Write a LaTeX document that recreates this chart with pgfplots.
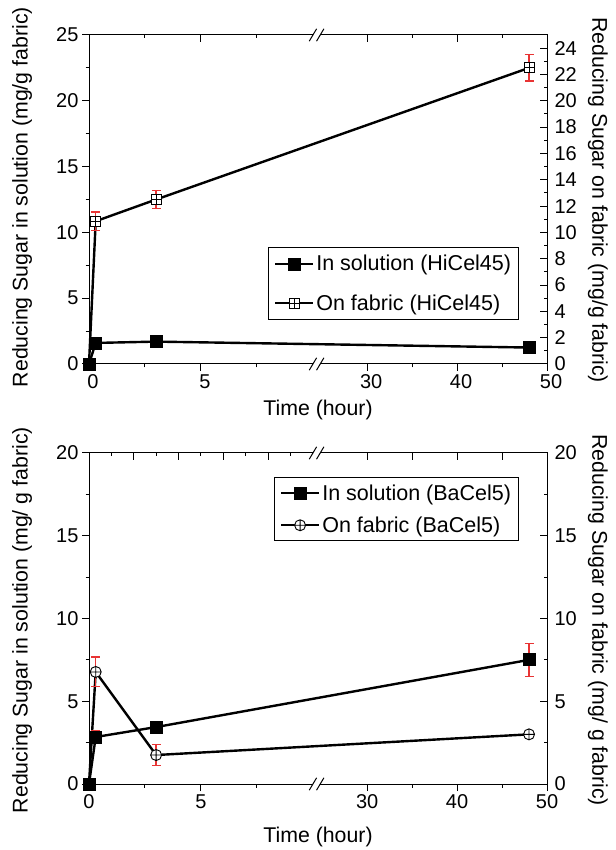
\documentclass[border=0pt]{standalone}
\usepackage{fontspec}
\setmainfont{Liberation Sans}
\usepackage{pgfplots}
\pgfplotsset{compat=1.18}

\pgfdeclareplotmark{boxplus}{%
  \pgfpathrectangle{\pgfpoint{-\pgfplotmarksize}{-\pgfplotmarksize}}{\pgfpoint{2\pgfplotmarksize}{2\pgfplotmarksize}}%
  \pgfusepathqfillstroke
  \pgfpathmoveto{\pgfpoint{-\pgfplotmarksize}{0pt}}\pgfpathlineto{\pgfpoint{\pgfplotmarksize}{0pt}}%
  \pgfpathmoveto{\pgfpoint{0pt}{-\pgfplotmarksize}}\pgfpathlineto{\pgfpoint{0pt}{\pgfplotmarksize}}%
  \pgfusepathqstroke}

\pgfplotstableread{
x    y     e
0    0     0
0.3  1.6   0.05
3    1.7   0.05
48   1.25  0.05
}\solA
\pgfplotstableread{
x    y     e
0    0     0
0.3  10.85 0.7
3    12.5  0.7
48   22.5  1.0
}\fabA
\pgfplotstableread{
x    y     e
0    0     0
0.3  2.84  0.36
3    3.44  0.1
48   7.5   1.0
}\solB
\pgfplotstableread{
x    y     e
0    0     0
0.3  6.77  0.9
3    1.75  0.65
48   3.0   0.1
}\fabB

\definecolor{ebred}{RGB}{232,52,52}

\tikzset{
  solline/.style={black, line width=2.4pt, mark=square*, mark size=6pt, mark options={solid, line width=0.8pt, fill=black}},
  fabAline/.style={black, line width=2.4pt, mark=boxplus, mark size=5pt, mark options={solid, line width=0.9pt, fill=white}},
  fabBline/.style={black, line width=2.4pt, mark=oplus*, mark size=5.5pt, mark options={solid, line width=0.9pt, fill=white}},
  brk/.style={line width=1pt},
}

\newcommand\axisbreak[1]{%
  \fill[white] ([xshift=-3.7pt,yshift=-1.5pt]rel axis cs:0.497,#1) rectangle ([xshift=3.6pt,yshift=1.5pt]rel axis cs:0.497,#1);
  \draw[brk] ([xshift=-7.4pt,yshift=-6.2pt]rel axis cs:0.497,#1) -- ++(7.4pt,12.4pt);
  \draw[brk] ([xshift=-0.1pt,yshift=-6.2pt]rel axis cs:0.497,#1) -- ++(7.4pt,12.4pt);
}

\pgfplotsset{
  panel/.style={
    scale only axis, width=458pt,
    xmin=0, xmax=50,
    axis line style={line width=1pt},
    every tick/.style={black, line width=1pt},
    major tick length=7pt, minor tick length=3.5pt,
    tick label style={font=\fontsize{20}{22}\selectfont},
    label style={font=\fontsize{21.3}{24}\selectfont},
    /pgf/number format/assume math mode=true,
    clip=false,
    xtick={0,5,30,40,50}, xticklabels={0,5,30,40,50},
    minor xtick={2.5,7.5,35,45},
    legend cell align=left,
  },
  ebars/.style={error bars/.cd, y dir=both, y explicit,
    error bar style={draw=ebred, line width=1.3pt},
    error mark options={draw=ebred, line width=1.2pt, mark size=4.5pt, rotate=90}},
}

\begin{document}
\begin{tikzpicture}

% ---------------- top panel ----------------
\begin{axis}[panel, at={(89pt,486pt)}, anchor=south west, height=329pt,
  x coord trafo/.code={\pgfmathparse{min(#1,10.16)+max(#1-24.35,0)*0.4018}},
  ymin=0, ymax=25, ytick={0,5,...,25}, minor y tick num=1,
  xtick pos=bottom, ytick pos=left, tick align=outside,
  xticklabel style={xshift=4pt},
  xlabel={Time (hour)},
  xlabel style={at={(axis description cs:0.5,-0.14)}, anchor=center},
  ylabel={Reducing Sugar in solution (mg/g fabric)},
  ylabel style={at={(axis description cs:-0.146,0.507)}, anchor=center},
]
\addplot[forget plot, draw=none] coordinates {(0,0)};
\end{axis}
\begin{axis}[panel, at={(89pt,486pt)}, anchor=south west, height=329pt,
  x coord trafo/.code={\pgfmathparse{min(#1,10.16)+max(#1-24.35,0)*0.4018}},
  axis x line*=top, axis y line*=right, tick align=inside,
  xticklabels={},
  ymin=0, ymax=25, ytick={0,2,...,24}, minor y tick num=1,
  yticklabel style={xshift=4pt},
  ylabel={Reducing Sugar on fabric (mg/g fabric)},
  ylabel style={at={(axis description cs:1.111,0.498)}, anchor=center, rotate=180},
  legend style={at={(axis description cs:0.938,0.356)}, anchor=north east,
    draw=black, line width=1pt, font=\fontsize{21.5}{25}\selectfont,
    inner xsep=5pt, inner ysep=6pt, row sep=18pt},
  legend image code/.code={\draw[mark repeat=2, mark phase=2, #1] plot coordinates {(0pt,0pt) (19pt,0pt) (38pt,0pt)};},
]
\addlegendimage{solline}
\addlegendentry{In solution (HiCel45)}
\addlegendimage{fabAline}
\addlegendentry{On fabric (HiCel45)}
\addplot[forget plot, fabAline] table[x=x, y=y] {\fabA};
\addplot[forget plot, solline] table[x=x, y=y] {\solA};
\addplot[forget plot, ebred, draw=none, mark=none, ebars] table[x=x, y=y, y error=e] {\fabA};
\addplot[forget plot, ebred, draw=none, mark=none, ebars] table[x=x, y=y, y error=e] {\solA};
\axisbreak{0}
\axisbreak{1}
\end{axis}

% ---------------- bottom panel ----------------
\begin{axis}[panel, at={(89pt,66pt)}, anchor=south west, height=331pt,
  x coord trafo/.code={\pgfmathparse{min(#1,10.16)+max(#1-24.35,0)*0.4018}},
  ymin=0, ymax=20, ytick={0,5,...,20}, minor y tick num=1,
  xtick pos=bottom, ytick pos=left, tick align=outside,
  xlabel={Time (hour)},
  xlabel style={at={(axis description cs:0.5,-0.16)}, anchor=center},
  ylabel={Reducing Sugar in solution (mg/ g fabric)},
  ylabel style={at={(axis description cs:-0.146,0.495)}, anchor=center},
]
\addplot[forget plot, draw=none] coordinates {(0,0)};
\end{axis}
\begin{axis}[panel, at={(89pt,66pt)}, anchor=south west, height=331pt,
  x coord trafo/.code={\pgfmathparse{min(#1,10.16)+max(#1-24.35,0)*0.4018}},
  axis x line*=top, axis y line*=right, tick align=inside,
  xtick={2,4,6,8,30,35,40,45}, minor xtick={1,3,5,7,9},
  xticklabels={},
  ymin=0, ymax=20, ytick={0,5,...,20}, minor y tick num=1,
  yticklabel style={xshift=4pt},
  ylabel={Reducing Sugar on fabric (mg/ g fabric)},
  ylabel style={at={(axis description cs:1.111,0.495)}, anchor=center, rotate=180},
  legend style={at={(axis description cs:0.938,0.927)}, anchor=north east,
    draw=black, line width=1pt, font=\fontsize{21.5}{25}\selectfont,
    inner xsep=5pt, inner ysep=5pt, row sep=11pt},
  legend image code/.code={\draw[mark repeat=2, mark phase=2, #1] plot coordinates {(0pt,0pt) (19pt,0pt) (38pt,0pt)};},
]
\addlegendimage{solline}
\addlegendentry{In solution (BaCel5)}
\addlegendimage{fabBline}
\addlegendentry{On fabric (BaCel5)}
\addplot[forget plot, fabBline] table[x=x, y=y] {\fabB};
\addplot[forget plot, solline] table[x=x, y=y] {\solB};
\addplot[forget plot, ebred, draw=none, mark=none, ebars] table[x=x, y=y, y error=e] {\fabB};
\addplot[forget plot, ebred, draw=none, mark=none, ebars] table[x=x, y=y, y error=e] {\solB};
\axisbreak{0}
\axisbreak{1}
\end{axis}

\pgfresetboundingbox
\path (0pt,0pt) rectangle (615pt,850pt);
\end{tikzpicture}
\end{document}
